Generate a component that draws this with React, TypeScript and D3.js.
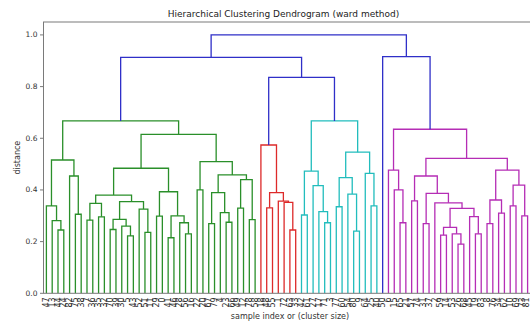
import React from "react";
import * as d3 from "d3";

type Node = null | [number, Node, Node];
const o: Node = null; // a leaf

// each cluster as nested [merge distance, left, right]
const greenTree: Node = [0.667,
  [0.516,
    [0.338, o, [0.281, o, [0.245, o, o]]],
    [0.454, o, [0.306, o, o]]],
  [0.615,
    [0.484,
      [0.38,
        [0.348, [0.283, o, o], [0.296, o, o]],
        [0.355,
          [0.286, [0.247, o, o], [0.26, o, [0.222, o, o]]],
          [0.326, o, [0.236, o, o]]]],
      [0.393,
        [0.299, o, o],
        [0.3, [0.215, o, o], [0.273, o, [0.23, o, o]]]]],
    [0.51,
      [0.4, o, o],
      [0.458,
        [0.39, [0.27, o, o], [0.312, o, [0.275, o, o]]],
        [0.44, [0.33, o, o], [0.285, o, o]]]]]];

const redTree: Node = [0.574, o,
  [0.39, [0.331, o, o], [0.357, o, [0.352, o, [0.245, o, o]]]]];

const cyanTree: Node = [0.667,
  [0.473, [0.303, o, o], [0.417, o, [0.316, o, [0.273, o, o]]]],
  [0.546,
    [0.448, [0.335, o, o], [0.384, o, [0.241, o, o]]],
    [0.464, o, [0.338, o, o]]]];

const magentaTree: Node = [0.635,
  [0.477, o, [0.4, o, [0.273, o, o]]],
  [0.522,
    [0.454,
      [0.358, o, o],
      [0.387,
        [0.27, o, o],
        [0.35, o,
          [0.329,
            [0.255, [0.225, o, o], [0.23, o, [0.19, o, o]]],
            [0.297, o, [0.23, o, o]]]]]],
    [0.477,
      [0.361, [0.27, o, o], [0.31, o, o]],
      [0.419, [0.338, o, o], [0.3, o, o]]]]];

// links above the colour threshold
const upperHeights = [1.0, 0.913, 0.836, 0.916];
const fullTree: Node = [upperHeights[0],
  [upperHeights[1], greenTree, [upperHeights[2], redTree, cyanTree]],
  [upperHeights[3], o, magentaTree]];

const clusterTrees = [greenTree, redTree, cyanTree, magentaTree];
const clusterColors = ["#2a8f2a", "#dd2a2a", "#22bdbd", "#b52db5"];
const aboveColor = "#2f2fc8";

const leafLabels = [
  47, 13, 44, 24, 82, 75, 38, 7, 36, 35, 32, 70, 39, 30, 5, 43, 52, 51, 11, 29,
  0, 41, 46, 28, 56, 16, 22, 20, 67, 79, 4, 23, 66, 49, 12, 78, 58, 18, 48, 55,
  1, 72, 63, 33, 42, 61, 27, 17, 71, 3, 77, 60, 54, 80, 9, 64, 25, 40, 50, 6,
  15, 65, 21, 57, 74, 31, 37, 2, 59, 14, 53, 26, 68, 45, 19, 83, 8, 76, 34, 62,
  10, 69, 73, 81,
];

const font = "DejaVu Sans, sans-serif";

const App = () => {
  const W = 530, H = 323;
  const left = 43.5, right = 530.5, top = 22, bottom = 293.3;

  const colorOf = new Map<Node, string>();
  clusterTrees.forEach((t, i) => colorOf.set(t, clusterColors[i]));

  const links: { d: string; color: string }[] = [];
  const leaves: number[] = [];
  const walkOrder = (n: Node): void => {
    if (n === null) { leaves.push(leaves.length); return; }
    walkOrder(n[1]); walkOrder(n[2]);
  };
  walkOrder(fullTree);

  const x = d3.scaleLinear().domain([0, leaves.length]).range([left, right]);
  const y = d3.scaleLinear().domain([0, 1.05]).range([bottom, top]);

  let idx = 0;
  const walk = (n: Node, color: string): { p: number; h: number } => {
    if (n === null) return { p: idx++ + 0.5, h: 0 };
    const c = colorOf.get(n) ?? color;
    const a = walk(n[1], c);
    const b = walk(n[2], c);
    const p = d3.path();
    p.moveTo(x(a.p), y(a.h));
    p.lineTo(x(a.p), y(n[0]));
    p.lineTo(x(b.p), y(n[0]));
    p.lineTo(x(b.p), y(b.h));
    links.push({ d: p.toString(), color: c });
    return { p: (a.p + b.p) / 2, h: n[0] };
  };
  walk(fullTree, aboveColor);

  const yTicks = y.ticks(5);
  const fmt = d3.format(".1f");

  return (
    <svg width={W} height={H} style={{ position: "absolute", left: 0, top: 0, background: "#fff" }}
      fontFamily={font}>
      <rect x={0} y={0} width={W} height={H} fill="#fff" />
      <text x={283.5} y={16.5} fontSize={9} textAnchor="middle" fill="#222">
        Hierarchical Clustering Dendrogram (ward method)
      </text>
      {links.map((l, i) => (
        <path key={i} d={l.d} fill="none" stroke={l.color} strokeWidth={1.3} />
      ))}
      <rect x={left} y={top} width={right - left} height={bottom - top}
        fill="none" stroke="#7a7a7a" strokeWidth={1} />
      {yTicks.map((t) => (
        <g key={t}>
          <line x1={left - 3.5} x2={left} y1={y(t)} y2={y(t)} stroke="#7a7a7a" />
          <text x={left - 6} y={y(t) + 2.5} fontSize={7.5} textAnchor="end" fill="#333">{fmt(t)}</text>
        </g>
      ))}
      {leaves.map((i) => (
        <g key={i} transform={`translate(${Math.min(x(i + 0.5) + 2.7, 529)},${bottom + 4})`}>
          <text transform="rotate(-90)" fontSize={8} textAnchor="end" fill="#333">
            {leafLabels[i]}
          </text>
        </g>
      ))}
      <text x={290} y={318.5} fontSize={8} textAnchor="middle" fill="#333">
        sample index or (cluster size)
      </text>
      <text transform={`translate(20,${(top + bottom) / 2}) rotate(-90)`} fontSize={8}
        textAnchor="middle" fill="#333">distance</text>
    </svg>
  );
};

export default App;
